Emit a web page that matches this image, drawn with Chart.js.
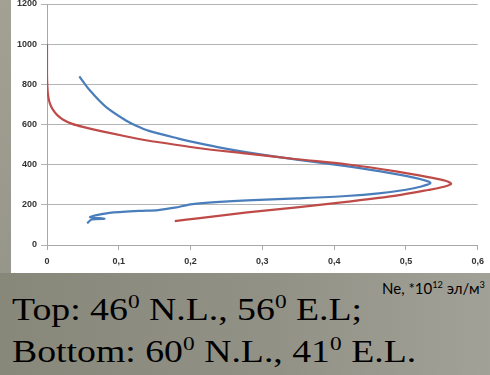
<!DOCTYPE html>
<html>
<head>
<meta charset="utf-8">
<script src="https://cdn.jsdelivr.net/npm/chart.js@4.4.0/dist/chart.umd.min.js"></script>
<style>
  html, body { margin: 0; padding: 0; }
  body {
    width: 490px; height: 375px; overflow: hidden; position: relative;
    background: linear-gradient(to right, #87877a 0%, #929186 55%, #a2a197 100%);
  }
  #strip { position: absolute; left: 0; top: 0; width: 11px; height: 273px; background: linear-gradient(to bottom, #a3a194, #97968a); }
  #panel { position: absolute; left: 11px; top: 0; width: 479px; height: 273px; background: #fff; overflow: hidden; }
  #panel canvas { position: absolute; left: 0; top: -6px; }
  .cap {
    position: absolute; left: 12px; white-space: nowrap; color: #000;
    font-family: "Liberation Serif", "Times New Roman", serif; font-size: 32px; line-height: 32px;
    transform: scaleX(1.18); transform-origin: left top;
  }
  .cap sup, #units sup { font-size: 0.62em; vertical-align: baseline; position: relative; top: -0.6em; line-height: 0; }
  #units {
    position: absolute; left: 382px; top: 281px; white-space: nowrap; color: #000;
    font-family: Lato, "Liberation Sans", sans-serif; font-size: 15px; line-height: 14px;
  }
</style>
</head>
<body>
<div id="strip"></div>
<div id="panel"><canvas id="ne" width="479" height="279"></canvas></div>
<div id="units">Ne, *10<sup>12</sup> эл/м<sup>3</sup></div>
<div class="cap" style="top:293px">Top: 46<sup>0</sup> N.L., 56<sup>0</sup> E.L;</div>
<div class="cap" style="top:335px">Bottom: 60<sup>0</sup> N.L., 41<sup>0</sup> E.L.</div>

<script>
// electron density Ne (x) vs altitude, km (y)
const topNe  = [0, 0, 0.0005, 0.0015, 0.004, 0.008, 0.014, 0.022, 0.035, 0.05, 0.087, 0.128, 0.142, 0.21, 0.279, 0.348, 0.417, 0.486, 0.531, 0.555, 0.563, 0.553, 0.531, 0.486, 0.417, 0.348, 0.279, 0.21, 0.178];
const topAlt = [1000, 850, 790, 745, 705, 675, 648, 625, 603, 588, 558, 528, 519, 483, 455, 427, 402, 367, 338, 320, 305, 290, 274, 246, 215, 187, 162, 133, 119];

const bottomNe  = [0.045, 0.059, 0.082, 0.110, 0.125, 0.142, 0.183, 0.211, 0.245, 0.279, 0.348, 0.417, 0.46, 0.509, 0.534, 0.52, 0.5, 0.462, 0.417, 0.348, 0.279, 0.23, 0.2, 0.178, 0.155, 0.128, 0.087, 0.066, 0.06, 0.08, 0.062, 0.056];
const bottomAlt = [840, 773, 688, 620, 592, 568, 530, 507, 482, 461, 425, 393, 369, 337, 310, 290, 275, 257, 244, 232, 222, 212, 202, 186, 174, 170, 160, 146, 138, 131, 127, 108];

const altTicks = [0, 200, 400, 600, 800, 1000, 1200];
const neTicks = [0, 0.1, 0.2, 0.3, 0.4, 0.5, 0.6];

const toPoints = (xs, ys) => xs.map((x, i) => ({ x: x, y: ys[i] }));
const tickFont = { family: "Liberation Sans", size: 9, weight: "bold" };

new Chart(document.getElementById("ne"), {
  type: "scatter",
  data: {
    datasets: [
      {
        label: "Top",
        data: toPoints(topNe, topAlt),
        showLine: true,
        borderColor: "#be4b48",
        borderWidth: 2.2,
        pointRadius: 0,
        tension: 0.3,
      },
      {
        label: "Bottom",
        data: toPoints(bottomNe, bottomAlt),
        showLine: true,
        borderColor: "#4a7ebb",
        borderWidth: 2.2,
        pointRadius: 0,
        tension: 0.3,
      },
    ],
  },
  options: {
    responsive: false,
    animation: false,
    layout: { autoPadding: false, padding: { top: 10, right: 7, left: 0, bottom: 0 } },
    plugins: { legend: { display: false }, tooltip: { enabled: false } },
    scales: {
      x: {
        type: "linear",
        min: neTicks[0],
        max: neTicks[neTicks.length - 1],
        afterBuildTicks: s => { s.ticks = neTicks.map(v => ({ value: v })); },
        afterFit: s => { s.height = 28; },
        grid: { drawOnChartArea: false, tickLength: 5, color: "#a8a8a8" },
        border: { color: "#a8a8a8" },
        ticks: {
          padding: 6,
          color: "#333",
          font: tickFont,
          maxRotation: 0,
          callback: v => (v === 0 ? "0" : v.toFixed(1).replace(".", ",")),
        },
      },
      y: {
        type: "linear",
        min: altTicks[0],
        max: altTicks[altTicks.length - 1],
        afterBuildTicks: s => { s.ticks = altTicks.map(v => ({ value: v })); },
        afterFit: s => { s.width = 36; },
        grid: { tickLength: 6, color: "#b4b4b4" },
        border: { color: "#a8a8a8" },
        ticks: { padding: 4, color: "#333", font: tickFont, callback: v => String(v) },
      },
    },
  },
});
</script>
</body>
</html>
